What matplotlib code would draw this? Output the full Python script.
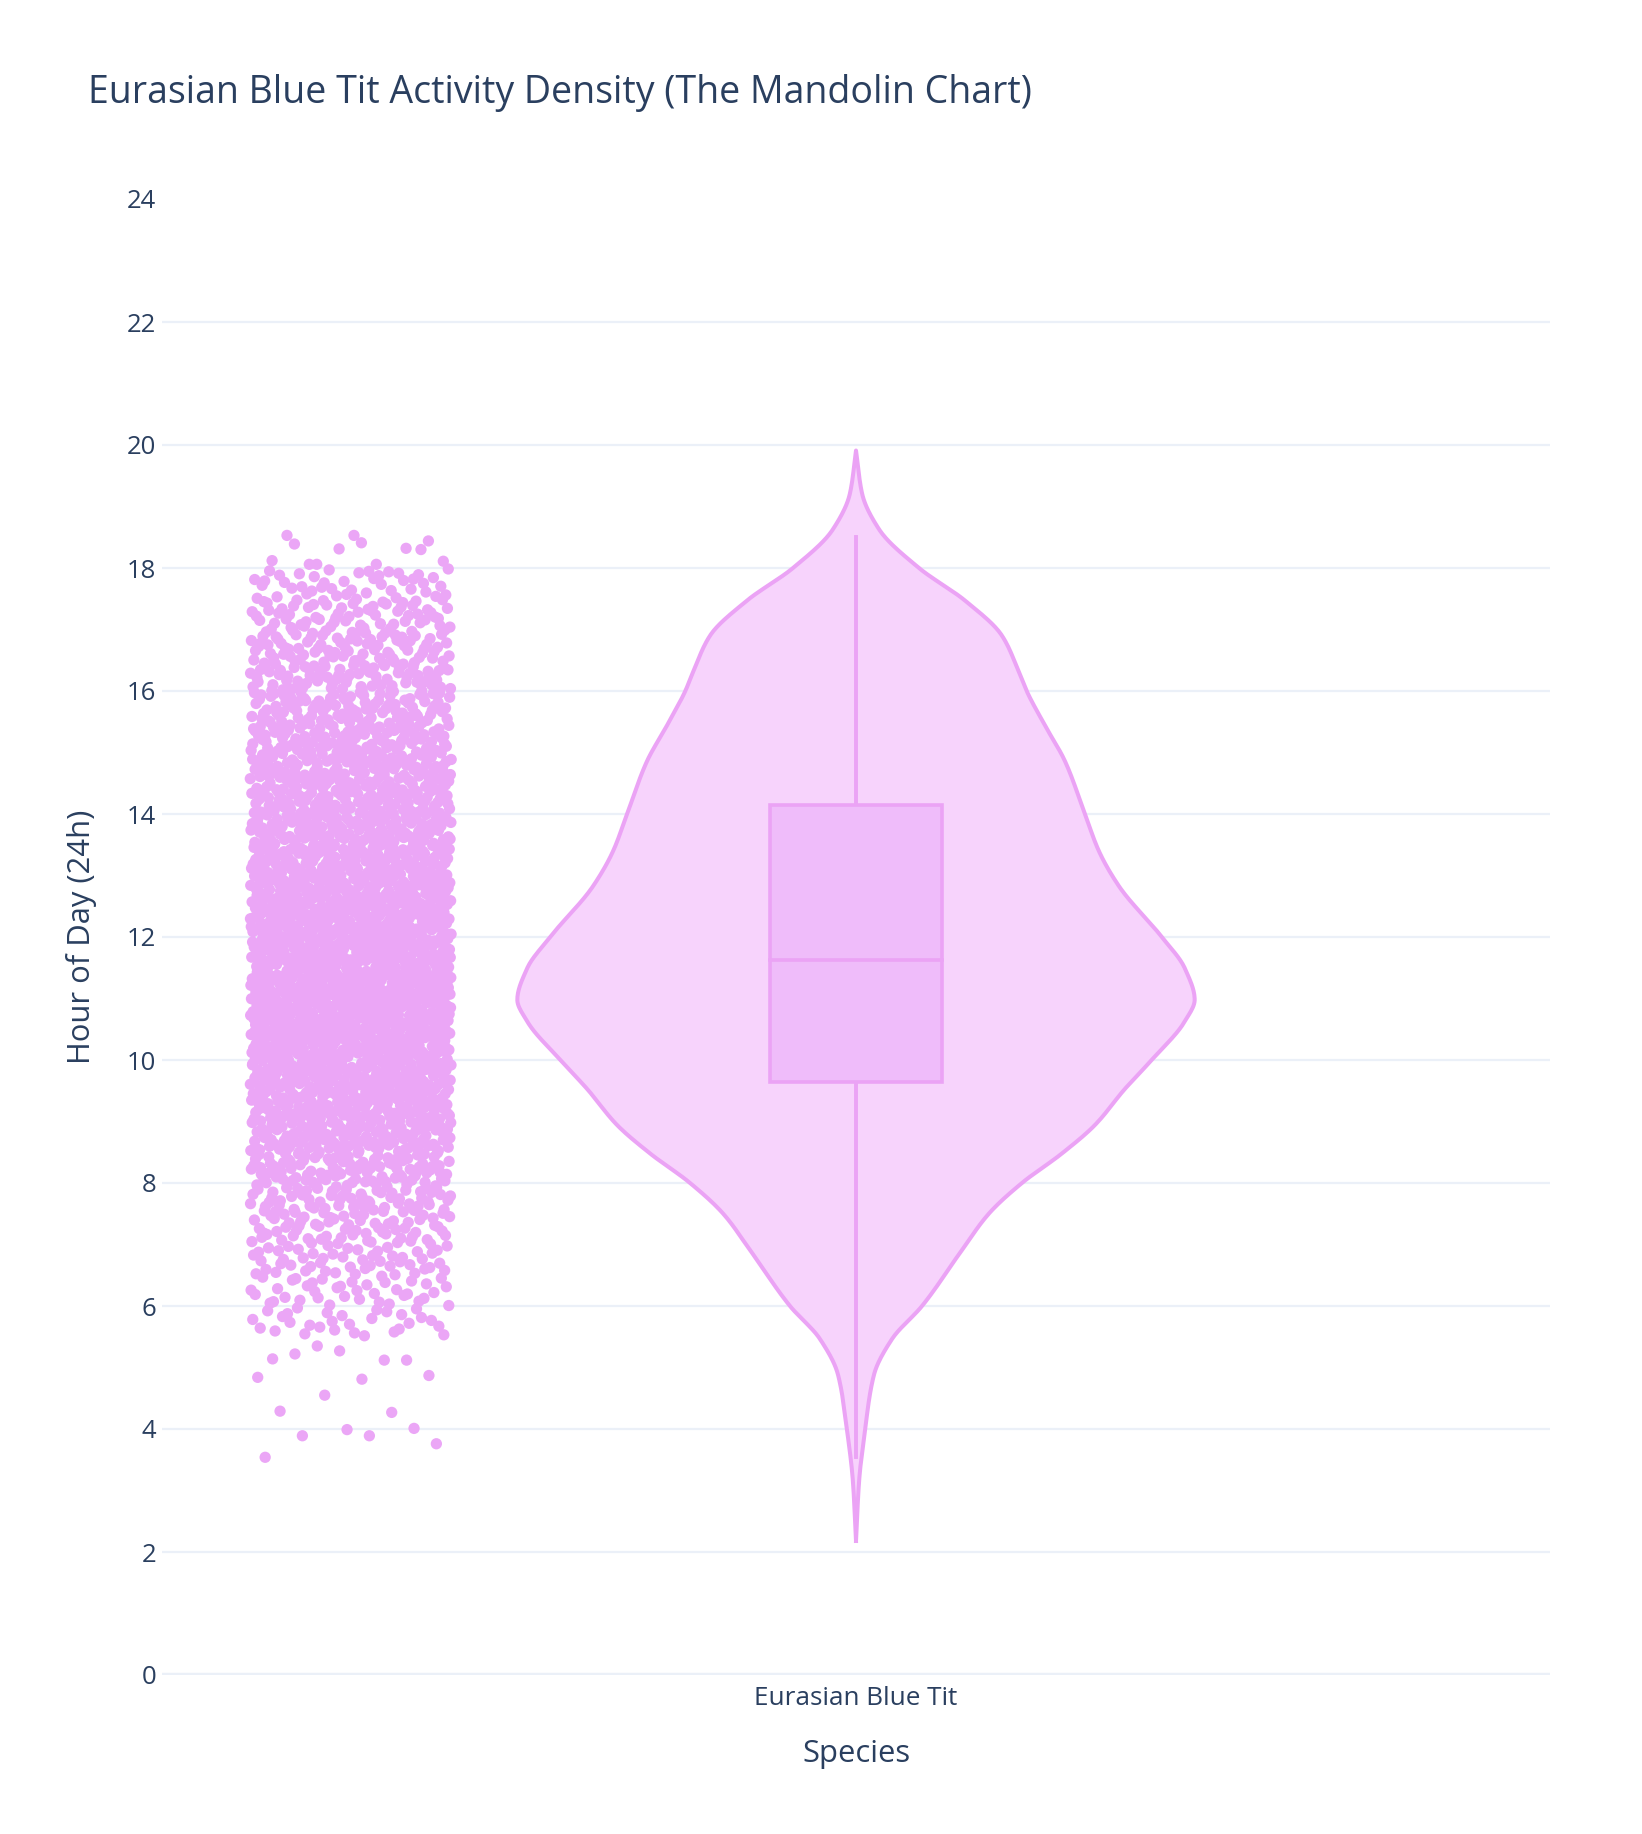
import numpy as np
import matplotlib
matplotlib.use("Agg")
import matplotlib.pyplot as plt

# ---------------- data ----------------
species = ["Eurasian Blue Tit"]
title = "Eurasian Blue Tit Activity Density (The Mandolin Chart)"

# violin outline: hour vs relative half-width (max = 1)
violin_hours = [2.18, 3.14, 4.0, 4.88, 5.46, 6.0, 6.91, 7.5, 8.0, 8.48, 8.94,
                9.53, 10.0, 10.63, 10.98, 11.49, 12.0, 12.83, 13.4, 14.0,
                14.86, 15.44, 16.0, 16.31, 16.9, 17.47, 18.0, 18.63, 19.21, 19.91]
violin_density = [0.0, 0.009, 0.027, 0.053, 0.106, 0.195, 0.313, 0.392, 0.49,
                  0.608, 0.705, 0.794, 0.873, 0.971, 1.0, 0.971, 0.903, 0.776,
                  0.717, 0.676, 0.617, 0.558, 0.504, 0.481, 0.431, 0.322,
                  0.186, 0.068, 0.018, 0.0]

# box statistics
box_q1 = 9.64
box_median = 11.62
box_q3 = 14.15
whisker_low = 3.54
whisker_high = 18.50

# observations: sparse tails read point by point, dense middle as half-hour counts
low_tail_hours = [5.35, 5.12, 5.14, 5.27, 5.12, 5.22, 4.81, 4.87, 4.84, 4.55,
                  4.27, 4.29, 3.99, 4.01, 3.89, 3.89, 3.76, 3.54]
high_tail_hours = [18.53, 18.53, 18.30, 18.06, 18.06, 18.11, 18.12, 18.31,
                   18.32, 18.39, 18.41, 18.44, 18.06]
bin_starts = [5.5, 6.0, 6.5, 7.0, 7.5, 8.0, 8.5, 9.0, 9.5, 10.0, 10.5, 11.0,
              11.5, 12.0, 12.5, 13.0, 13.5, 14.0, 14.5, 15.0, 15.5, 16.0,
              16.5, 17.0, 17.5]
bin_counts = [30, 39, 51, 63, 77, 96, 116, 131, 146, 159, 171, 173, 163, 151,
              138, 128, 122, 115, 109, 101, 92, 85, 77, 63, 43]
bin_width = 0.5

y_ticks = list(range(0, 25, 2))

# ---------------- styles ----------------
TEXT = "#2a3f5f"
GRID = "#EBF0F8"
POINT = "#EBA6F6"
FILL = "#F7D3FC"
EDGE = "#EBA3F5"
BOXFILL = "#EFBCFA"
FONT = ["Open Sans", "DejaVu Sans"]

violin_half_max = 0.244
box_half = 0.062
pts_center = -0.364
pts_half = 0.0724


def vdc(n, base=2):
    v, denom = 0.0, 1.0
    while n:
        n, r = divmod(n, base)
        denom *= base
        v += r / denom
    return v


def pchip(x, y, xs):
    x = np.asarray(x, float)
    y = np.asarray(y, float)
    h = np.diff(x)
    d = np.diff(y) / h
    m = np.zeros_like(y)
    for k in range(1, len(x) - 1):
        if d[k - 1] * d[k] > 0:
            w1 = 2 * h[k] + h[k - 1]
            w2 = h[k] + 2 * h[k - 1]
            m[k] = (w1 + w2) / (w1 / d[k - 1] + w2 / d[k])
    m[0] = d[0]
    m[-1] = d[-1]
    idx = np.clip(np.searchsorted(x, xs) - 1, 0, len(x) - 2)
    t = (xs - x[idx]) / h[idx]
    h00 = 2 * t**3 - 3 * t**2 + 1
    h10 = t**3 - 2 * t**2 + t
    h01 = -2 * t**3 + 3 * t**2
    h11 = t**3 - t**2
    return h00 * y[idx] + h10 * h[idx] * m[idx] + h01 * y[idx + 1] + h11 * h[idx] * m[idx + 1]


# build observation values
values = list(low_tail_hours)
for start, n in zip(bin_starts, bin_counts):
    for k in range(n):
        values.append(start + vdc(k + 1, 2) * bin_width)
values += high_tail_hours
values = np.array(values)
jit = np.array([vdc(i + 1, 3) for i in range(len(values))])
xs_pts = pts_center + (jit - 0.5) * 2 * pts_half

# ---------------- figure ----------------
fig = plt.figure(figsize=(16.42, 18.34), dpi=100)
fig.patch.set_facecolor("white")
ax = fig.add_axes([162 / 1642, 159 / 1834, (1550 - 162) / 1642, (1675 - 199) / 1834])
ax.set_facecolor("white")
ax.set_xlim(-0.5, 0.5)
ax.set_ylim(0, 24)

for t in y_ticks[1:-1]:
    ax.axhline(t, color=GRID, lw=1.6, zorder=0)
ax.axhline(0, color=GRID, lw=3.2, zorder=0.5)

# violin
yy = np.linspace(violin_hours[0], violin_hours[-1], 600)
ww = np.clip(pchip(violin_hours, violin_density, yy), 0, None) * violin_half_max
ax.fill_betweenx(yy, -ww, ww, facecolor=FILL, edgecolor="none", zorder=2)
ax.plot(np.concatenate([-ww, ww[::-1]]), np.concatenate([yy, yy[::-1]]),
        color=EDGE, lw=2.9, zorder=3, solid_joinstyle="round")

# whiskers and box
ax.plot([0, 0], [whisker_low, box_q1], color=EDGE, lw=2.8, zorder=3)
ax.plot([0, 0], [box_q3, whisker_high], color=EDGE, lw=2.8, zorder=3)
ax.add_patch(plt.Rectangle((-box_half, box_q1), 2 * box_half, box_q3 - box_q1,
                           facecolor=BOXFILL, edgecolor=EDGE, lw=2.6, zorder=4))
ax.plot([-box_half, box_half], [box_median, box_median], color=EDGE, lw=2.6, zorder=5)

# points
ax.scatter(xs_pts, values, s=66, color=POINT, edgecolors="none", zorder=6)

# axes styling
for sp in ax.spines.values():
    sp.set_visible(False)
ax.set_yticks(y_ticks)
ax.set_yticklabels([str(t) for t in y_ticks], fontsize=18.5, color=TEXT, family=FONT)
ax.set_xticks([0])
ax.set_xticklabels(species, fontsize=18.8, color=TEXT, family=FONT)
ax.tick_params(axis="both", length=0)
ax.tick_params(axis="y", pad=4)
ax.tick_params(axis="x", pad=8)

ax.set_ylabel("Hour of Day (24h)", fontsize=22.3, color=TEXT, family=FONT, labelpad=22)
ax.set_xlabel("Species", fontsize=22.3, color=TEXT, family=FONT, labelpad=20)

fig.text(88 / 1642, 1 - 103 / 1834, title, fontsize=27, color=TEXT, family=FONT,
         ha="left", va="baseline")

fig.savefig("out.png", dpi=100, facecolor="white")
